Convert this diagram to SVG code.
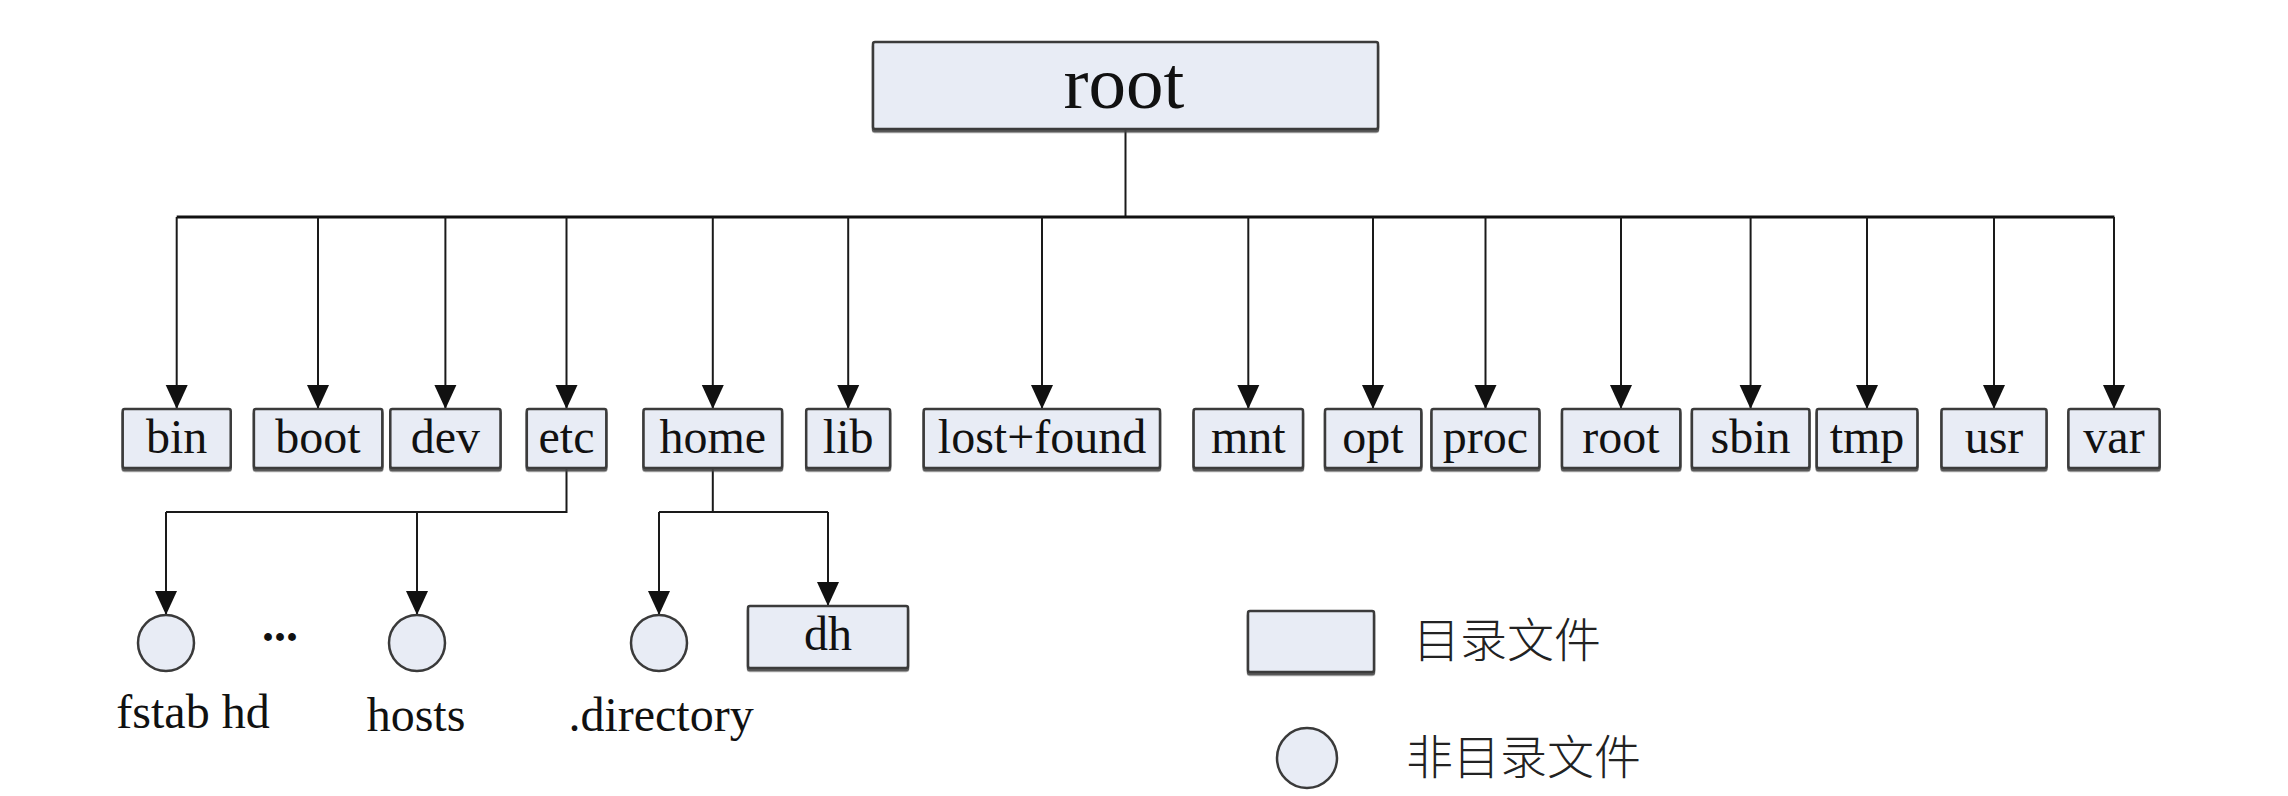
<svg xmlns="http://www.w3.org/2000/svg" width="2288" height="796" viewBox="0 0 2288 796">
<style>
.box{fill:#e8ecf5;stroke:#3a3a3a;stroke-width:2.5;filter:url(#sh)}
.lbl{font-family:"Liberation Serif","Times New Roman",serif;font-size:48px;fill:#111;text-anchor:middle}
.cjk{font-family:"Noto Sans CJK SC","Liberation Sans",sans-serif;font-size:47px;fill:#222;font-weight:300}
.ln{stroke:#1a1a1a;stroke-width:2;fill:none}
.arr{stroke:#1a1a1a;stroke-width:2;fill:none;marker-end:url(#ah)}
.circ{fill:#e8ecf5;stroke:#3a3a3a;stroke-width:2.5}
</style>
<defs>
<marker id="ah" markerUnits="userSpaceOnUse" markerWidth="24" markerHeight="24" viewBox="0 0 24 24" refX="24" refY="12" orient="auto">
<path d="M0,1 L24,12 L0,23 Z" fill="#111"/>
</marker>
<filter id="sh" x="-5%" y="-10%" width="110%" height="130%">
<feDropShadow dx="0" dy="2.5" stdDeviation="0.6" flood-color="#444" flood-opacity="0.9"/>
</filter>
</defs>
<rect width="2288" height="796" fill="#fff"/>
<g id="connectors">
<path class="ln" d="M1125.5,130 V217"/>
<path d="M176.7,217 H2114.4" stroke="#111" stroke-width="3" fill="none"/>
<path class="arr" d="M176.7,217 V409"/>
<path class="arr" d="M318,217 V409"/>
<path class="arr" d="M445.4,217 V409"/>
<path class="arr" d="M566.5,217 V409"/>
<path class="arr" d="M712.8,217 V409"/>
<path class="arr" d="M848.2,217 V409"/>
<path class="arr" d="M1042,217 V409"/>
<path class="arr" d="M1248.3,217 V409"/>
<path class="arr" d="M1373,217 V409"/>
<path class="arr" d="M1485.5,217 V409"/>
<path class="arr" d="M1621,217 V409"/>
<path class="arr" d="M1750.6,217 V409"/>
<path class="arr" d="M1867,217 V409"/>
<path class="arr" d="M1994,217 V409"/>
<path class="arr" d="M2114,217 V409"/>
<path class="ln" d="M566.5,468 V512 H166"/>
<path class="arr" d="M166,512 V615"/>
<path class="arr" d="M417,512 V615"/>
<path class="ln" d="M712.8,468 V512"/>
<path class="ln" d="M659,512 H828"/>
<path class="arr" d="M659,512 V615"/>
<path class="arr" d="M828,512 V606"/>
</g>
<g id="n-root"><rect class="box" x="873" y="42" width="505" height="87" rx="2"/><text class="lbl" x="1124" y="108" style="font-size:75px">root</text></g>
<g id="n-bin"><rect class="box" x="122.7" y="409" width="108" height="59" rx="2"/><text class="lbl" x="176.7" y="453">bin</text></g>
<g id="n-boot"><rect class="box" x="253.9" y="409" width="128.4" height="59" rx="2"/><text class="lbl" x="318" y="453">boot</text></g>
<g id="n-dev"><rect class="box" x="390.3" y="409" width="110.2" height="59" rx="2"/><text class="lbl" x="445.4" y="453">dev</text></g>
<g id="n-etc"><rect class="box" x="526.8" y="409" width="79.5" height="59" rx="2"/><text class="lbl" x="566.5" y="453">etc</text></g>
<g id="n-home"><rect class="box" x="643.5" y="409" width="138.6" height="59" rx="2"/><text class="lbl" x="712.8" y="453">home</text></g>
<g id="n-lib"><rect class="box" x="806.2" y="409" width="83.9" height="59" rx="2"/><text class="lbl" x="848.2" y="453">lib</text></g>
<g id="n-lostfound"><rect class="box" x="923.7" y="409" width="236.3" height="59" rx="2"/><text class="lbl" x="1042" y="453">lost+found</text></g>
<g id="n-mnt"><rect class="box" x="1193.6" y="409" width="109.4" height="59" rx="2"/><text class="lbl" x="1248.3" y="453">mnt</text></g>
<g id="n-opt"><rect class="box" x="1325" y="409" width="96.3" height="59" rx="2"/><text class="lbl" x="1373" y="453">opt</text></g>
<g id="n-proc"><rect class="box" x="1431.5" y="409" width="107.9" height="59" rx="2"/><text class="lbl" x="1485.5" y="453">proc</text></g>
<g id="n-root2"><rect class="box" x="1562" y="409" width="118.3" height="59" rx="2"/><text class="lbl" x="1621" y="453">root</text></g>
<g id="n-sbin"><rect class="box" x="1691.9" y="409" width="117.5" height="59" rx="2"/><text class="lbl" x="1750.6" y="453">sbin</text></g>
<g id="n-tmp"><rect class="box" x="1816.7" y="409" width="100.7" height="59" rx="2"/><text class="lbl" x="1867" y="453">tmp</text></g>
<g id="n-usr"><rect class="box" x="1941.5" y="409" width="105" height="59" rx="2"/><text class="lbl" x="1994" y="453">usr</text></g>
<g id="n-var"><rect class="box" x="2068.4" y="409" width="91.2" height="59" rx="2"/><text class="lbl" x="2114" y="453">var</text></g>
<g id="n-fstab"><circle class="circ" cx="166" cy="643" r="28"/><text class="lbl" x="193" y="728">fstab hd</text></g>
<g id="n-dots"><text class="lbl" x="280" y="641" style="font-weight:bold">...</text></g>
<g id="n-hosts"><circle class="circ" cx="417" cy="643" r="28"/><text class="lbl" x="416" y="731">hosts</text></g>
<g id="n-directory"><circle class="circ" cx="659" cy="643" r="28"/><text class="lbl" x="661" y="731">.directory</text></g>
<g id="n-dh"><rect class="box" x="748" y="606" width="160" height="62" rx="2"/><text class="lbl" x="828" y="650">dh</text></g>
<g id="legend">
<rect class="box" x="1248" y="611" width="126" height="61" rx="2"/>
<text class="cjk" x="1413" y="657">目录文件</text>
<circle class="circ" cx="1307" cy="758" r="30"/>
<text class="cjk" x="1406" y="774">非目录文件</text>
</g>
</svg>
